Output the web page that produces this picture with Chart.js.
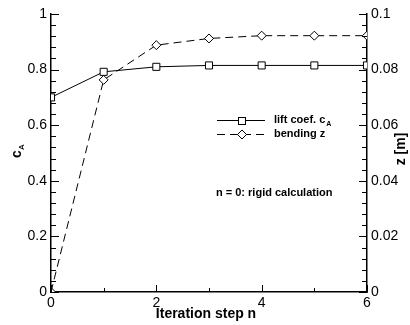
<!DOCTYPE html>
<html lang="en">
  <head>
    <meta charset="UTF-8" />
    <title>Lift coefficient and bending vs iteration</title>
    <script src="https://cdn.jsdelivr.net/npm/chart.js"></script>
    <style>
      body {
        margin: 0;
        padding: 0;
        background: #fff;
      }
      #chartIter {
        display: block;
      }
    </style>
  </head>
  <body>
    <canvas id="chartIter" width="410" height="325"></canvas>

    <script>
      // data
      const steps = [0, 1, 2, 3, 4, 5, 6];
      const liftCoef = [0.7, 0.792, 0.81, 0.815, 0.815, 0.815, 0.815];
      const bendingZ = [0, 0.0763, 0.0888, 0.0912, 0.0922, 0.0922, 0.0922];
      const xTicks = [0, 2, 4, 6];
      const leftTicks = [0, 0.2, 0.4, 0.6, 0.8, 1];
      const rightTicks = [0, 0.02, 0.04, 0.06, 0.08, 0.1];

      const FONT = "'Liberation Sans', Arial, Helvetica, sans-serif";

      // inward tick marks, axis titles, legend and note
      const decorPlugin = {
        id: "decor",
        afterDraw(chart) {
          const ctx = chart.ctx;
          const sx = chart.scales.x;
          const yL = chart.scales.y;
          const yR = chart.scales.y1;
          const left = Math.round(sx.left);
          const right = Math.round(sx.right);
          const bottom = Math.round(yL.bottom);
          ctx.save();
          ctx.setLineDash([]);
          ctx.fillStyle = "#000";

          // x ticks (major every 2, minor on odd steps)
          for (let n = 0; n <= 6; n++) {
            const px = Math.round(sx.getPixelForValue(n));
            const len = n % 2 === 0 ? 7 : 4;
            ctx.fillRect(px, bottom - len, 1, len);
          }
          // left and right ticks, minor every 1/25 of the range
          for (let i = 0; i <= 25; i++) {
            const len = i % 5 === 0 ? 8 : 5;
            const pl = Math.round(yL.getPixelForValue(i * 0.04));
            ctx.fillRect(left, pl, len, 1);
            const pr = Math.round(yR.getPixelForValue(i * 0.004));
            ctx.fillRect(right - len, pr, len, 1);
          }

          ctx.strokeStyle = "#000";
          ctx.lineWidth = 1;
          ctx.textBaseline = "middle";

          // x title
          ctx.font = "bold 14px " + FONT;
          ctx.textAlign = "center";
          ctx.fillText("Iteration step n", 206, 314);

          // left title c_A
          ctx.save();
          ctx.translate(17, 152);
          ctx.rotate(-Math.PI / 2);
          ctx.textAlign = "left";
          ctx.font = "bold 14px " + FONT;
          ctx.fillText("c", -6, 0);
          ctx.font = "bold 8px " + FONT;
          ctx.fillText("A", 2, 5);
          ctx.restore();

          // right title
          ctx.save();
          ctx.translate(401, 149);
          ctx.rotate(-Math.PI / 2);
          ctx.textAlign = "center";
          ctx.font = "bold 14px " + FONT;
          ctx.fillText("z [m]", 0, 0);
          ctx.restore();

          // legend
          ctx.textAlign = "left";
          ctx.beginPath();
          ctx.moveTo(217, 120.5);
          ctx.lineTo(265, 120.5);
          ctx.stroke();
          ctx.fillStyle = "#fff";
          ctx.fillRect(238.5, 117.5, 7, 7);
          ctx.strokeRect(238.5, 117.5, 7, 7);

          ctx.setLineDash([8, 5]);
          ctx.beginPath();
          ctx.moveTo(217, 134.5);
          ctx.lineTo(265, 134.5);
          ctx.stroke();
          ctx.setLineDash([]);
          ctx.beginPath();
          ctx.moveTo(242, 130);
          ctx.lineTo(246.5, 134.5);
          ctx.lineTo(242, 139);
          ctx.lineTo(237.5, 134.5);
          ctx.closePath();
          ctx.fill();
          ctx.stroke();

          ctx.fillStyle = "#000";
          ctx.font = "bold 11px " + FONT;
          ctx.fillText("lift coef. c", 274, 120);
          const w = ctx.measureText("lift coef. c").width;
          ctx.font = "bold 7px " + FONT;
          ctx.fillText("A", 274 + w + 1, 124);
          ctx.font = "bold 11px " + FONT;
          ctx.fillText("bending z", 274, 134);

          ctx.fillText("n = 0: rigid calculation", 216, 193);
          ctx.restore();
        },
      };

      const ctxIter = document.getElementById("chartIter");
      new Chart(ctxIter, {
        type: "line",
        data: {
          labels: steps,
          datasets: [
            {
              label: "lift coef. cA",
              data: steps.map((s, i) => ({ x: s, y: liftCoef[i] })),
              yAxisID: "y",
              borderColor: "#000",
              borderWidth: 1,
              pointStyle: "rect",
              pointRadius: 5,
              pointBackgroundColor: "#fff",
              pointBorderColor: "#000",
              pointBorderWidth: 1,
              tension: 0,
            },
            {
              label: "bending z",
              data: steps.map((s, i) => ({ x: s, y: bendingZ[i] })),
              yAxisID: "y1",
              borderColor: "#000",
              borderWidth: 1,
              borderDash: [8, 5],
              pointStyle: "rectRot",
              pointRadius: 4.5,
              pointBackgroundColor: "#fff",
              pointBorderColor: "#000",
              pointBorderWidth: 1,
              tension: 0,
            },
          ],
        },
        options: {
          responsive: false,
          animation: false,
          devicePixelRatio: 1,
          layout: { padding: { top: 14, left: 0, right: 0, bottom: 0 } },
          plugins: {
            legend: { display: false },
            tooltip: { enabled: false },
          },
          scales: {
            x: {
              type: "linear",
              min: 0,
              max: 6,
              afterBuildTicks: (s) => {
                s.ticks = xTicks.map((v) => ({ value: v }));
              },
              afterFit: (s) => {
                s.height = 33;
              },
              grid: { display: false, drawTicks: false },
              border: { display: true, color: "#000", width: 1.5 },
              ticks: {
                padding: 3,
                color: "#000",
                font: { size: 14, family: FONT },
                maxRotation: 0,
              },
            },
            y: {
              type: "linear",
              position: "left",
              min: 0,
              max: 1,
              afterBuildTicks: (s) => {
                s.ticks = leftTicks.map((v) => ({ value: v }));
              },
              afterFit: (s) => {
                s.width = 51;
              },
              grid: { display: false, drawTicks: false },
              border: { display: true, color: "#000", width: 1.5 },
              ticks: {
                padding: 4,
                color: "#000",
                font: { size: 14, family: FONT },
                callback: (v) => String(+v.toFixed(2)),
              },
            },
            y1: {
              type: "linear",
              position: "right",
              min: 0,
              max: 0.1,
              afterBuildTicks: (s) => {
                s.ticks = rightTicks.map((v) => ({ value: v }));
              },
              afterFit: (s) => {
                s.width = 43;
              },
              grid: { display: false, drawTicks: false },
              border: { display: true, color: "#000", width: 1.5 },
              ticks: {
                padding: 4,
                color: "#000",
                font: { size: 14, family: FONT },
                callback: (v) => String(+v.toFixed(3)),
              },
            },
          },
        },
        plugins: [decorPlugin],
      });
    </script>
  </body>
</html>
